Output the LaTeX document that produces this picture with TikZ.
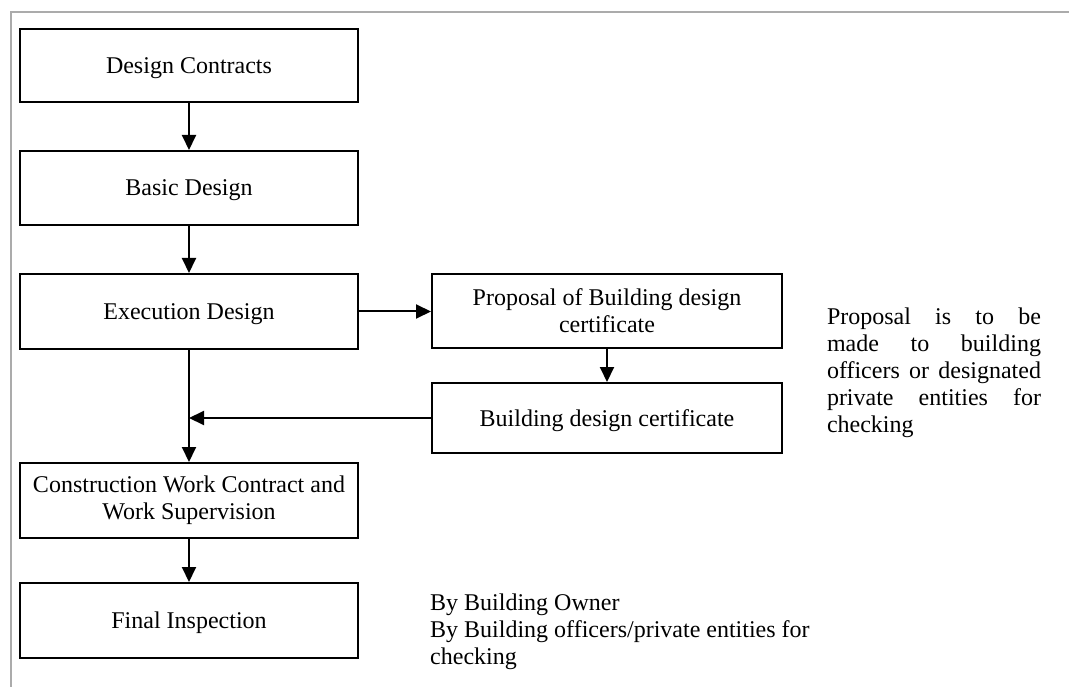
\documentclass[tikz,border=0pt]{standalone}
\usepackage{fontspec}
\setmainfont{Liberation Serif}
\usetikzlibrary{arrows.meta}
\begin{document}
\begin{tikzpicture}[x=1pt,y=-1pt,
  txt/.style={font=\fontsize{24}{27}\selectfont},
  stage/.style={txt, draw=black, line width=2pt, align=center, inner sep=0pt, minimum width=338pt},
  oneline/.style={text height=16pt, text depth=0pt},
  side/.style={stage, minimum width=350pt},
  flow/.style={line width=2pt, -{Triangle[length=15pt,width=14pt]}},
  frame/.style={draw=black!33, line width=2pt}]
\useasboundingbox (0,0) rectangle (1069,687);
% page frame
\draw[frame] (11,687) -- (11,12) -- (1069,12);

% main sequence
\node[stage, oneline, minimum height=73pt] (dc) at (189,65.5) {Design Contracts};
\node[stage, oneline, minimum height=74pt] (bd) at (189,188) {Basic Design};
\node[stage, oneline, minimum height=75pt] (ed) at (189,311.5) {Execution Design};
\node[stage, minimum height=75pt] (cw) at (189,500.5) {Construction Work Contract and\\Work Supervision};
\node[stage, oneline, minimum height=75pt] (fi) at (189,620.5) {Final Inspection};

% certificate branch
\node[side, minimum height=74pt] (pr) at (607,311) {Proposal of Building design\\certificate};
\node[side, oneline, minimum height=70pt] (bc) at (607,418) {Building design certificate};

% notes
\node[txt, align=left, inner sep=0pt] (note) at (934,373)
  {\makebox[214pt][s]{Proposal is to be}\\
   \makebox[214pt][s]{made to building}\\
   \makebox[214pt][s]{officers or designated}\\
   \makebox[214pt][s]{private entities for}\\
   checking};
\node[txt, anchor=west, align=left, inner sep=0pt] (who) at (430,631.5)
  {By Building Owner\\By Building officers/private entities for\\checking};

% connectors
\draw[flow] (dc) -- (bd);
\draw[flow] (bd) -- (ed);
\draw[flow] (ed) -- (cw);
\draw[flow] (cw) -- (fi);
\draw[flow] (ed.east) -- (ed.east -| pr.west);
\draw[flow] (pr) -- (bc);
\draw[flow] (bc.west) -- (bc.west -| ed.south);
\end{tikzpicture}
\end{document}
